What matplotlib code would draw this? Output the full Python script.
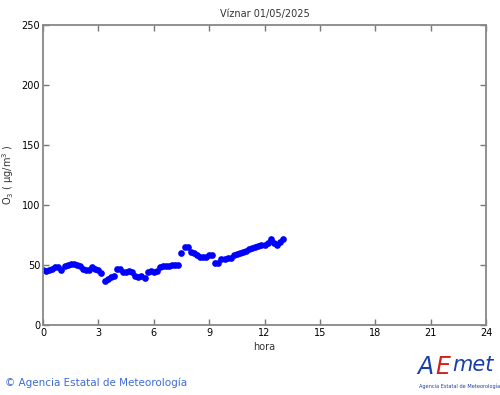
import matplotlib.pyplot as plt
import numpy as np

# ozone, 10-minute values from 00:00 to 13:00
o3 = [46, 45, 46, 47, 48, 48, 46, 49, 50, 51, 51, 50,
      49, 47, 46, 46, 48, 47, 46, 43, 37, 38, 40, 41,
      47, 47, 44, 44, 45, 44, 41, 40, 41, 39, 44, 45,
      44, 45, 48, 49, 49, 49, 50, 50, 50, 60, 65, 65,
      61, 60, 58, 57, 57, 57, 58, 58, 52, 52, 55, 55,
      56, 56, 58, 59, 60, 61, 62, 63, 64, 65, 66, 67,
      67, 68, 72, 68, 67, 69, 72]
hours = np.arange(len(o3)) / 6.0
xticks = [0, 3, 6, 9, 12, 15, 18, 21, 24]
yticks = [0, 50, 100, 150, 200, 250]

fig = plt.figure(figsize=(5, 3.95), dpi=100)
ax = fig.add_axes([0.086, 0.177, 0.886, 0.76])
ax.plot(hours, o3, 'o', color='#0000ff', ms=3.8, mec='#0000ff')

ax.set_xlim(0, 24)
ax.set_ylim(0, 250)
ax.set_xticks(xticks)
ax.set_yticks(yticks)
ax.tick_params(direction='in', length=4, width=1, color='#777777',
               labelsize=7, top=True, right=True, pad=2)
for s in ax.spines.values():
    s.set_color('#888888')
    s.set_linewidth(1.3)

ax.set_title('Víznar 01/05/2025', fontsize=7, pad=6, color='#333333')
ax.set_xlabel('hora', fontsize=7, labelpad=3, color='#333333')
ax.yaxis.set_label_coords(-0.062, 0.5)
ax.set_ylabel('O$_3$ ( µg/m$^3$ )', fontsize=7, color='#333333')

fig.text(0.01, 0.03, '© Agencia Estatal de Meteorología', fontsize=7.5,
         color='#3d6bd6', va='center')
fig.text(0.835, 0.07, 'A', fontsize=17, color='#1a3ea8', style='italic', va='center')
fig.text(0.87, 0.07, 'E', fontsize=17, color='#d0201c', style='italic', va='center')
fig.text(0.905, 0.075, 'met', fontsize=15, color='#1a3ea8', style='italic', va='center')
fig.text(0.92, 0.022, 'Agencia Estatal de Meteorología', fontsize=3.6,
         color='#1a3ea8', ha='center', va='center')

fig.savefig('out.png', dpi=100)
